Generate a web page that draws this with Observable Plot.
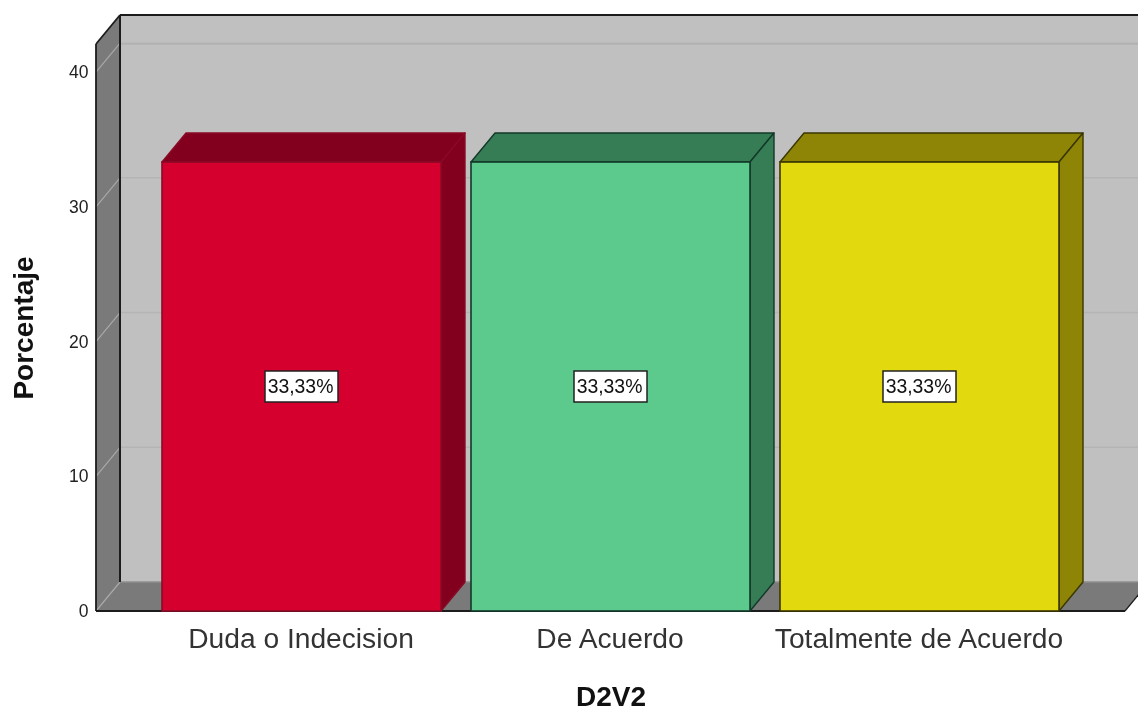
<!DOCTYPE html>
<html>
<head>
<meta charset="utf-8">
<script src="https://cdn.jsdelivr.net/npm/d3@7"></script>
<script src="https://cdn.jsdelivr.net/npm/@observablehq/plot@0.6"></script>
<style>
html,body{margin:0;padding:0;background:#fff;overflow:hidden}
svg{display:block;filter:blur(0.4px)}
</style>
</head>
<body>
<div id="chart"></div>
<script>
const categories = ["Duda o Indecision", "De Acuerdo", "Totalmente de Acuerdo"];
const percentages = [33.33, 33.33, 33.33];
const labels = ["33,33%", "33,33%", "33,33%"];
const fills = ["#d6002f", "#5dca8d", "#e3d90f"];
const shades = ["#82001e", "#367c55", "#8e8406"];
const edges = ["#8a0a26", "#12392a", "#3a3600"];
const yTicks = [0, 10, 20, 30, 40];
const yTop = 42.09;
const bars = categories.map((c, i) => ({c, v: percentages[i], label: labels[i], fill: fills[i], shade: shades[i], edge: edges[i]}));

const DX = 24, DY = -29;
const NS = "http://www.w3.org/2000/svg";
function el(name, attrs, parent) {
  const e = document.createElementNS(NS, name);
  for (const k in attrs) e.setAttribute(k, attrs[k]);
  if (parent) parent.appendChild(e);
  return e;
}
const poly = (g, pts, fill, stroke, sw) => el("polygon", {points: pts.map(p => p.join(",")).join(" "), fill, stroke: stroke || "none", "stroke-width": sw || 0, "stroke-linejoin": "round"}, g);
const seg = (g, a, b, stroke, sw) => el("line", {x1: a[0], y1: a[1], x2: b[0], y2: b[1], stroke, "stroke-width": sw}, g);

// room: back wall, left wall, floor, grid lines
function room(index, scales, values, dim) {
  const g = el("g", {});
  const x0 = dim.marginLeft, x1 = dim.width - dim.marginRight;
  const y0 = scales.y(0), y1 = scales.y(yTop);
  poly(g, [[x0 + DX, y1 + DY], [x1 + DX, y1 + DY], [x1 + DX, y0 + DY], [x0 + DX, y0 + DY]], "#c0c0c0");
  poly(g, [[x0, y1], [x0 + DX, y1 + DY], [x0 + DX, y0 + DY], [x0, y0]], "#7a7a7a");
  poly(g, [[x0, y0], [x0 + DX, y0 + DY], [x1 + DX, y0 + DY], [x1, y0]], "#7a7a7a");
  for (const t of [...yTicks, yTop]) {
    const y = scales.y(t);
    if (t !== yTop) seg(g, [x0, y], [x0 + DX, y + DY], "#a8a8a8", 1.2);
    if (t !== 0 && t !== yTop) seg(g, [x0 + DX, y + DY], [x1 + DX, y + DY], "#b4b4b4", 1.5);
  }
  seg(g, [x0 + DX, y1], [x1 + DX, y1], "#b2b2b2", 1.5);
  seg(g, [x0 + DX, y0 + DY], [x1 + DX, y0 + DY], "#8f8f8f", 1.5);
  seg(g, [x0 + DX, y1 + DY], [x1 + DX, y1 + DY], "#1c1c1c", 1.8);
  seg(g, [x0, y1], [x0 + DX, y1 + DY], "#1c1c1c", 1.8);
  seg(g, [x0, y1], [x0, y0], "#1c1c1c", 1.8);
  seg(g, [x0 + DX, y1 + DY], [x0 + DX, y0 + DY], "#1c1c1c", 2);
  seg(g, [x0, y0], [x1, y0], "#1c1c1c", 2);
  seg(g, [x1, y0], [x1 + DX, y0 + DY], "#1c1c1c", 1.2);
  return g;
}

// the top and right faces of each bar, derived from its scaled position
function faces(index, scales) {
  const g = el("g", {});
  for (const b of bars) {
    const l = scales.x(b.c), r = l + scales.x.bandwidth();
    const t = scales.y(b.v), z = scales.y(0);
    poly(g, [[l, t], [l + DX, t + DY], [r + DX, t + DY], [r, t]], b.shade, b.edge, 1.4);
    poly(g, [[r, t], [r + DX, t + DY], [r + DX, z + DY], [r, z]], b.shade, b.edge, 1.4);
  }
  return g;
}

// white boxes behind the value labels
function boxes(index, scales) {
  const g = el("g", {});
  for (const b of bars) {
    const cx = scales.x(b.c) + scales.x.bandwidth() / 2, cy = scales.y(b.v / 2);
    el("rect", {x: cx - 36.5, y: cy - 15.5, width: 73, height: 31, fill: "#fff", stroke: "#222", "stroke-width": 1.5}, g);
  }
  return g;
}

const FONT = "'Liberation Sans', Arial, sans-serif";
const chart = Plot.plot({
  width: 1138,
  height: 711,
  marginLeft: 96,
  marginRight: 13,
  marginTop: 44,
  marginBottom: 100,
  style: {fontFamily: FONT, background: "#fff", overflow: "hidden"},
  x: {type: "band", domain: categories, paddingInner: 0.0972, paddingOuter: 0.2136, align: 0.5, label: null},
  y: {domain: [0, yTop], label: null},
  marks: [
    room,
    faces,
    Plot.barY(bars, {x: "c", y: "v", fill: d => d.fill, stroke: d => d.edge, strokeWidth: 1.6}),
    boxes,
    Plot.text(bars, {x: "c", y: d => d.v / 2, dx: -1.5, text: "label", fill: "#111", fontSize: 19.4, fontFamily: FONT}),
    Plot.axisY({ticks: yTicks, tickSize: 0, tickPadding: 8, tickFormat: d => String(d), label: null, fontSize: 17.5, fill: "#222", fontFamily: FONT}),
    Plot.axisX({tickSize: 0, tickPadding: 16, dx: -1, label: null, fontSize: 28.2, fill: "#333", fontFamily: FONT}),
    Plot.text(["D2V2"], {frameAnchor: "bottom", dy: 86, text: d => d, fontSize: 28, fontWeight: "bold", fill: "#111", fontFamily: FONT, dy: 94}),
    Plot.text(["Porcentaje"], {frameAnchor: "left", textAnchor: "middle", dx: -72, rotate: -90, text: d => d, fontSize: 28, fontWeight: "bold", fill: "#111", fontFamily: FONT})
  ]
});
document.getElementById("chart").appendChild(chart);
</script>
</body>
</html>
